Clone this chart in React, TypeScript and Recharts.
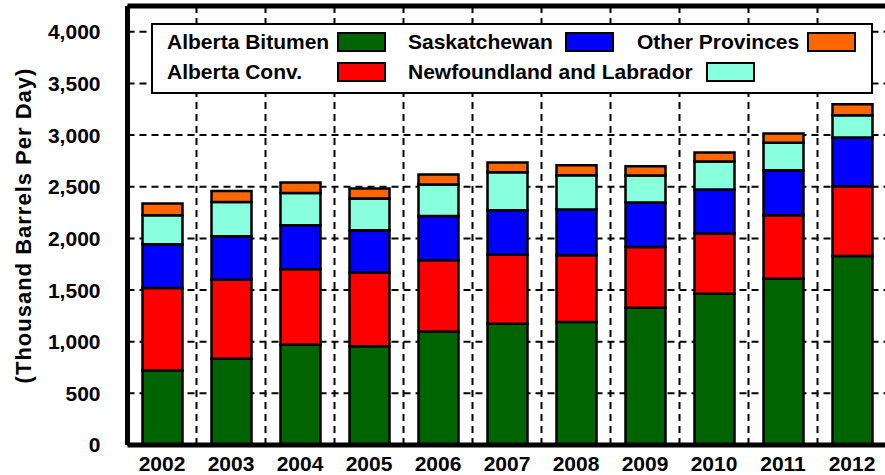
import { Bar, BarChart, CartesianGrid, ReferenceLine, XAxis, YAxis } from 'recharts'

const years = ['2002', '2003', '2004', '2005', '2006', '2007', '2008', '2009', '2010', '2011', '2012']
const albertaBitumen = [722, 835, 971, 955, 1100, 1174, 1190, 1329, 1465, 1610, 1830]
const albertaConv = [797, 766, 730, 714, 688, 669, 646, 588, 582, 614, 675]
const saskatchewan = [424, 419, 426, 410, 429, 429, 443, 430, 426, 436, 472]
const newfoundland = [281, 333, 313, 307, 304, 368, 332, 261, 271, 265, 216]
const otherProvinces = [113, 106, 101, 97, 97, 95, 97, 91, 87, 91, 106]
const yTicks = [0, 500, 1000, 1500, 2000, 2500, 3000, 3500, 4000]

const series = [
  { key: 'bitumen', name: 'Alberta Bitumen', color: '#006400', values: albertaBitumen },
  { key: 'conv', name: 'Alberta Conv.', color: '#ff0000', values: albertaConv },
  { key: 'sask', name: 'Saskatchewan', color: '#0000ff', values: saskatchewan },
  { key: 'nfld', name: 'Newfoundland and Labrador', color: '#88ffdd', values: newfoundland },
  { key: 'other', name: 'Other Provinces', color: '#ff6600', values: otherProvinces },
]

const data = years.map((year, i) => {
  const row: Record<string, string | number> = { year }
  series.forEach((s) => (row[s.key] = s.values[i]))
  return row
})

// where each legend entry sits inside the legend box (text left, swatch left, row)
const legendSpots: Record<string, { text: number; swatch: number; row: number }> = {
  bitumen: { text: 14, swatch: 184, row: 0 },
  conv: { text: 14, swatch: 184, row: 1 },
  sask: { text: 255, swatch: 412, row: 0 },
  nfld: { text: 255, swatch: 553, row: 1 },
  other: { text: 484, swatch: 654, row: 0 },
}

const font = '"Liberation Sans", Arial, sans-serif'
const tickStyle = { fontSize: 21, fontWeight: 700, fill: '#000', fontFamily: font }

function ChartLegend() {
  return (
    <div
      style={{
        position: 'absolute',
        left: 151,
        top: 23,
        width: 722,
        height: 71,
        boxSizing: 'border-box',
        border: '2px solid #000',
        background: '#fff',
        fontFamily: font,
        fontWeight: 700,
        fontSize: 21,
      }}
    >
      {series.map((s) => {
        const spot = legendSpots[s.key]
        const top = 7 + spot.row * 30
        return (
          <div key={s.key}>
            <span style={{ position: 'absolute', left: spot.text, top: top - 2, lineHeight: '24px' }}>{s.name}</span>
            <span
              style={{
                position: 'absolute',
                left: spot.swatch,
                top,
                width: 49,
                height: 20,
                boxSizing: 'border-box',
                border: '2px solid #000',
                background: s.color,
              }}
            />
          </div>
        )
      })}
    </div>
  )
}

export default function App() {
  return (
    <div style={{ position: 'fixed', left: 0, top: 0, width: 885, height: 475, overflow: 'hidden', background: '#fff' }}>
      <BarChart width={900} height={475} data={data} margin={{ top: 6, right: 13.5, left: 0, bottom: 0 }}>
        <CartesianGrid
          stroke="#000"
          strokeWidth={2}
          strokeDasharray="7 5"
          verticalCoordinatesGenerator={({ offset }: any) => {
            const band = offset.width / years.length
            return years.map((_, i) => offset.left + band * (i + 1))
          }}
        />
        <XAxis
          dataKey="year"
          height={30}
          tick={tickStyle}
          tickLine={false}
          tickMargin={5}
          axisLine={{ stroke: '#000', strokeWidth: 5 }}
        />
        <YAxis
          width={127.5}
          domain={[0, 4250]}
          ticks={yTicks}
          interval={0}
          tick={tickStyle}
          tickFormatter={(v: number) => v.toLocaleString('en-US')}
          tickLine={false}
          tickSize={0}
          tickMargin={27}
          axisLine={{ stroke: '#000', strokeWidth: 5 }}
          label={({ viewBox }: any) => {
            const cy = viewBox.y + viewBox.height / 2
            return (
              <text
                x={31}
                y={cy}
                transform={`rotate(-90 31 ${cy})`}
                textAnchor="middle"
                style={{ fontSize: 22, fontWeight: 700, fontFamily: font, letterSpacing: 1 }}
                fill="#000"
              >
                (Thousand Barrels Per Day)
              </text>
            )
          }}
        />
        {series.map((s) => (
          <Bar
            key={s.key}
            dataKey={s.key}
            name={s.name}
            stackId="a"
            fill={s.color}
            stroke="#000"
            strokeWidth={2.5}
            barSize={40}
            isAnimationActive={false}
          />
        ))}
        <ReferenceLine y={4250} stroke="#000" strokeWidth={5} />
      </BarChart>
      <ChartLegend />
    </div>
  )
}
